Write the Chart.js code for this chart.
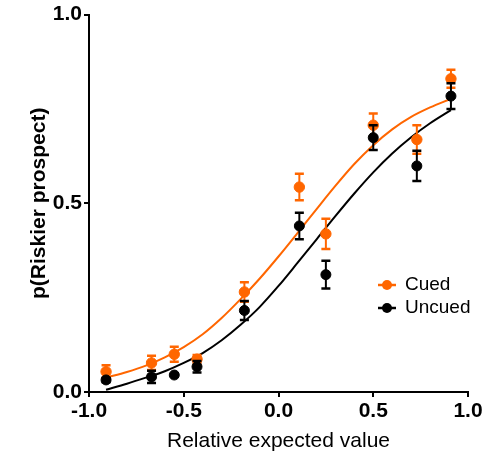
<!DOCTYPE html>
<html><head><meta charset="utf-8">
<script src="https://cdn.jsdelivr.net/npm/chart.js@4"></script>
<style>html,body{margin:0;padding:0;background:#fff;overflow:hidden}</style>
</head><body>
<canvas id="c" width="502" height="455" style="width:502px;height:455px;display:block"></canvas>
<script>
// ---- data ----
const seriesNames = ['Cued', 'Uncued'];
const pointX     = [-0.91, -0.67, -0.55, -0.43, -0.18, 0.11, 0.25, 0.50, 0.73, 0.91];
const cuedY      = [0.054, 0.077, 0.100, 0.087, 0.265, 0.543, 0.419, 0.707, 0.669, 0.830];
const cuedErr    = [0.017, 0.019, 0.020, 0.011, 0.026, 0.035, 0.040, 0.031, 0.038, 0.024];
const uncuedY    = [0.032, 0.040, 0.045, 0.067, 0.216, 0.440, 0.311, 0.674, 0.599, 0.784];
const uncuedErr  = [0.006, 0.016, 0.000, 0.015, 0.025, 0.035, 0.037, 0.033, 0.040, 0.034];
const curveX     = [-0.91, -0.8, -0.7, -0.6, -0.5, -0.4, -0.3, -0.2, -0.1, 0.0, 0.1, 0.2, 0.3, 0.4, 0.5, 0.6, 0.7, 0.8, 0.91];
const cuedCurve  = [0.038, 0.053, 0.070, 0.092, 0.119, 0.153, 0.196, 0.246, 0.300, 0.359, 0.421, 0.484, 0.546, 0.604, 0.654, 0.696, 0.729, 0.754, 0.777];
const uncuedCurve= [0.006, 0.022, 0.038, 0.055, 0.077, 0.103, 0.137, 0.178, 0.225, 0.281, 0.342, 0.404, 0.466, 0.526, 0.582, 0.632, 0.675, 0.712, 0.747];
const xTicks = [-1.0, -0.5, 0.0, 0.5, 1.0];
const yTicks = [0.0, 0.5, 1.0];
const xTitle = 'Relative expected value';
const yTitle = 'p(Riskier prospect)';
// ---------------------------------------

const ORANGE = '#FF6600', BLACK = '#000000';
const colors = [ORANGE, BLACK];
const FONT = "'Liberation Sans', Arial, sans-serif";

const toXY = (xs, ys) => xs.map((x, i) => ({x: x, y: ys[i]}));

const errorBars = {
  id: 'errorBars',
  beforeDatasetDraw(chart, args) {
    const ds = chart.data.datasets[args.index];
    if (!ds.errors) return;
    const ctx = chart.ctx, xs = chart.scales.x, ys = chart.scales.y;
    ctx.save();
    ctx.strokeStyle = ds.borderColor;
    ds.data.forEach((p, i) => {
      const e = ds.errors[i];
      if (!e) return;
      const px = xs.getPixelForValue(p.x);
      const t = ys.getPixelForValue(p.y + e), b = ys.getPixelForValue(p.y - e);
      ctx.lineWidth = 2;
      ctx.beginPath(); ctx.moveTo(px, t); ctx.lineTo(px, b); ctx.stroke();
      ctx.lineWidth = 2.5;
      ctx.beginPath();
      ctx.moveTo(px - 4.5, t); ctx.lineTo(px + 4.5, t);
      ctx.moveTo(px - 4.5, b); ctx.lineTo(px + 4.5, b);
      ctx.stroke();
    });
    ctx.restore();
  }
};

const legendPlugin = {
  id: 'customLegend',
  afterDraw(chart) {
    const ctx = chart.ctx;
    ctx.save();
    seriesNames.forEach((name, i) => {
      const y = 285 + i * 23;
      ctx.strokeStyle = colors[i]; ctx.fillStyle = colors[i];
      ctx.lineWidth = 2.5;
      ctx.beginPath(); ctx.moveTo(378, y); ctx.lineTo(396, y); ctx.stroke();
      ctx.beginPath(); ctx.arc(387, y, 5, 0, Math.PI * 2); ctx.fill();
      ctx.fillStyle = '#000';
      ctx.font = '19px ' + FONT;
      ctx.textBaseline = 'middle';
      ctx.textAlign = 'left';
      ctx.fillText(name, 405, y);
    });
    ctx.restore();
  }
};

const axisCommon = (ticksArr) => ({
  type: 'linear',
  grid: { display: true, drawOnChartArea: false, drawTicks: true, tickLength: 5, color: BLACK, lineWidth: 2 },
  border: { display: true, color: BLACK, width: 2 },
  ticks: { color: BLACK, padding: 2, font: { family: FONT, size: 21, weight: 'bold' }, callback: v => v.toFixed(1) },
  afterBuildTicks: s => { s.ticks = ticksArr.map(v => ({value: v})); }
});

const xAxis = axisCommon(xTicks);
xAxis.min = -1; xAxis.max = 1;
xAxis.title = { display: true, text: xTitle, color: BLACK, font: { family: FONT, size: 21 }, padding: { top: 0, bottom: 1 } };
xAxis.afterFit = s => { s.height = 63; };

const yAxis = axisCommon(yTicks);
yAxis.min = 0; yAxis.max = 1;
yAxis.title = { display: true, text: yTitle, color: BLACK, font: { family: FONT, size: 21, weight: 'bold' }, padding: { top: 27, bottom: 0 } };
yAxis.afterFit = s => { s.width = 89; };

new Chart(document.getElementById('c'), {
  type: 'line',
  data: {
    datasets: [
      { label: seriesNames[1] + ' points', data: toXY(pointX, uncuedY), errors: uncuedErr, showLine: false,
        borderColor: BLACK, backgroundColor: BLACK, pointRadius: 5, pointBorderWidth: 1, pointHoverRadius: 5, order: 0, clip: false },
      { label: seriesNames[0] + ' points', data: toXY(pointX, cuedY), errors: cuedErr, showLine: false,
        borderColor: ORANGE, backgroundColor: ORANGE, pointRadius: 5.2, pointBorderWidth: 1, pointHoverRadius: 5, order: 1, clip: false },
      { label: seriesNames[1] + ' fit', data: toXY(curveX, uncuedCurve), borderColor: BLACK, borderWidth: 2,
        pointRadius: 0, cubicInterpolationMode: 'monotone', fill: false, order: 2, clip: false },
      { label: seriesNames[0] + ' fit', data: toXY(curveX, cuedCurve), borderColor: ORANGE, borderWidth: 2,
        pointRadius: 0, cubicInterpolationMode: 'monotone', fill: false, order: 3, clip: false }
    ]
  },
  options: {
    responsive: false,
    animation: false,
    devicePixelRatio: 1,
    layout: { padding: { left: 0, right: 34, top: 13, bottom: 0 } },
    plugins: { legend: { display: false }, tooltip: { enabled: false } },
    scales: { x: xAxis, y: yAxis }
  },
  plugins: [errorBars, legendPlugin]
});
</script>
</body></html>
